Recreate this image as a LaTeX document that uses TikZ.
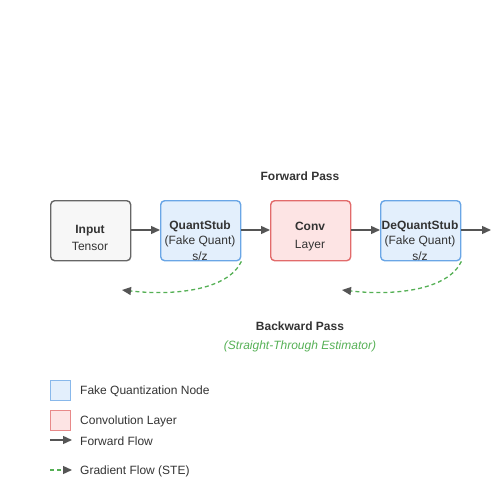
\documentclass[tikz,border=0pt]{standalone}
\usepackage{fontspec}
\setmainfont{Liberation Sans}
\usetikzlibrary{arrows.meta}
\definecolor{txt}{HTML}{333333}
\definecolor{arr}{HTML}{555555}
\definecolor{bluef}{HTML}{E3EFFC}
\definecolor{blued}{HTML}{6AA6E6}
\definecolor{redf}{HTML}{FDE4E4}
\definecolor{redd}{HTML}{E26B6B}
\definecolor{grayf}{HTML}{F7F7F7}
\definecolor{grayd}{HTML}{666666}
\definecolor{grn}{HTML}{55B055}
\tikzset{
  box/.style={rounded corners=4pt, line width=1.4pt, minimum width=80pt, minimum height=60pt, anchor=north west, inner sep=0pt},
  inbox/.style={box, fill=grayf, draw=grayd},
  qbox/.style={box, fill=bluef, draw=blued},
  cbox/.style={box, fill=redf, draw=redd},
  fwd/.style={draw=arr, line width=1.4pt, -{Triangle[length=9pt,width=8pt]}},
  bwd/.style={draw=grn, line width=1.3pt, dash pattern=on 4pt off 3pt, -{Triangle[length=9pt,width=8pt,fill=arr,color=arr]}},
  lbl/.style={text=txt, font=\fontsize{12}{12}\selectfont, inner sep=0pt},
  blbl/.style={text=txt, font=\fontsize{12}{12}\selectfont\bfseries, inner sep=0pt},
}
\begin{document}
\begin{tikzpicture}[x=1pt,y=-1pt]
\useasboundingbox (0,0) rectangle (500,500);
% boxes
\node[inbox] (in) at (50,200) {};
\node[qbox] (qs) at (160,200) {};
\node[cbox] (cv) at (270,200) {};
\node[qbox] (dq) at (380,200) {};
% texts
\node[blbl] (inT1) at (90,231) {Input};
\node[lbl] (inT2) at (90,246) {Tensor};
\node[blbl] (qsT1) at (200,226) {QuantStub};
\node[lbl] (qsT2) at (200,241) {(Fake Quant)};
\node[lbl] (qsT3) at (200,256) {s/z};
\node[blbl] (cvT1) at (310,226) {Conv};
\node[lbl] (cvT2) at (310,246) {Layer};
\node[blbl] (dqT1) at (420,226) {DeQuantStub};
\node[lbl] (dqT2) at (420,241) {(Fake Quant)};
\node[lbl] (dqT3) at (420,256) {s/z};
\node[blbl] (fp) at (300,176) {Forward Pass};
\node[blbl] (bp) at (300,326) {Backward Pass};
\node[text=grn, font=\fontsize{12}{12}\selectfont\itshape, inner sep=0pt] (ste) at (300,346) {(Straight-Through Estimator)};
% forward arrows
\coordinate (out) at (491,230);
\draw[fwd] (in.east |- 0,230) -- (qs.west |- 0,230);
\draw[fwd] (qs.east |- 0,230) -- (cv.west |- 0,230);
\draw[fwd] (cv.east |- 0,230) -- (dq.west |- 0,230);
\draw[fwd] (dq.east |- 0,230) -- (out);
% backward
\coordinate (b1) at (122,290);
\coordinate (b2) at (342,290);
\draw[bwd] (qs.south east) .. controls (228,290) and (175,296) .. (b1);
\draw[bwd] (dq.south east) .. controls (448,290) and (395,296) .. (b2);
% legend
\node[anchor=north west, minimum width=20pt, minimum height=20pt, inner sep=0pt, fill=bluef, draw=blued!80, line width=1.3pt] (lg1) at (50,380) {};
\node[anchor=north west, minimum width=20pt, minimum height=20pt, inner sep=0pt, fill=redf, draw=redd!80, line width=1.3pt] (lg2) at (50,410) {};
\node[lbl, anchor=west] (lt1) at (80,391) {Fake Quantization Node};
\node[lbl, anchor=west] (lt2) at (80,421) {Convolution Layer};
\coordinate (la1) at (50,440);
\coordinate (la2) at (72,440);
\draw[fwd] (la1) -- (la2);
\node[lbl, anchor=west] (lt3) at (80,441) {Forward Flow};
\coordinate (lb1) at (50,470);
\coordinate (lb2) at (72,470);
\draw[bwd] (lb1) -- (lb2);
\node[lbl, anchor=west] (lt4) at (80,471) {Gradient Flow (STE)};
\end{tikzpicture}
\end{document}
